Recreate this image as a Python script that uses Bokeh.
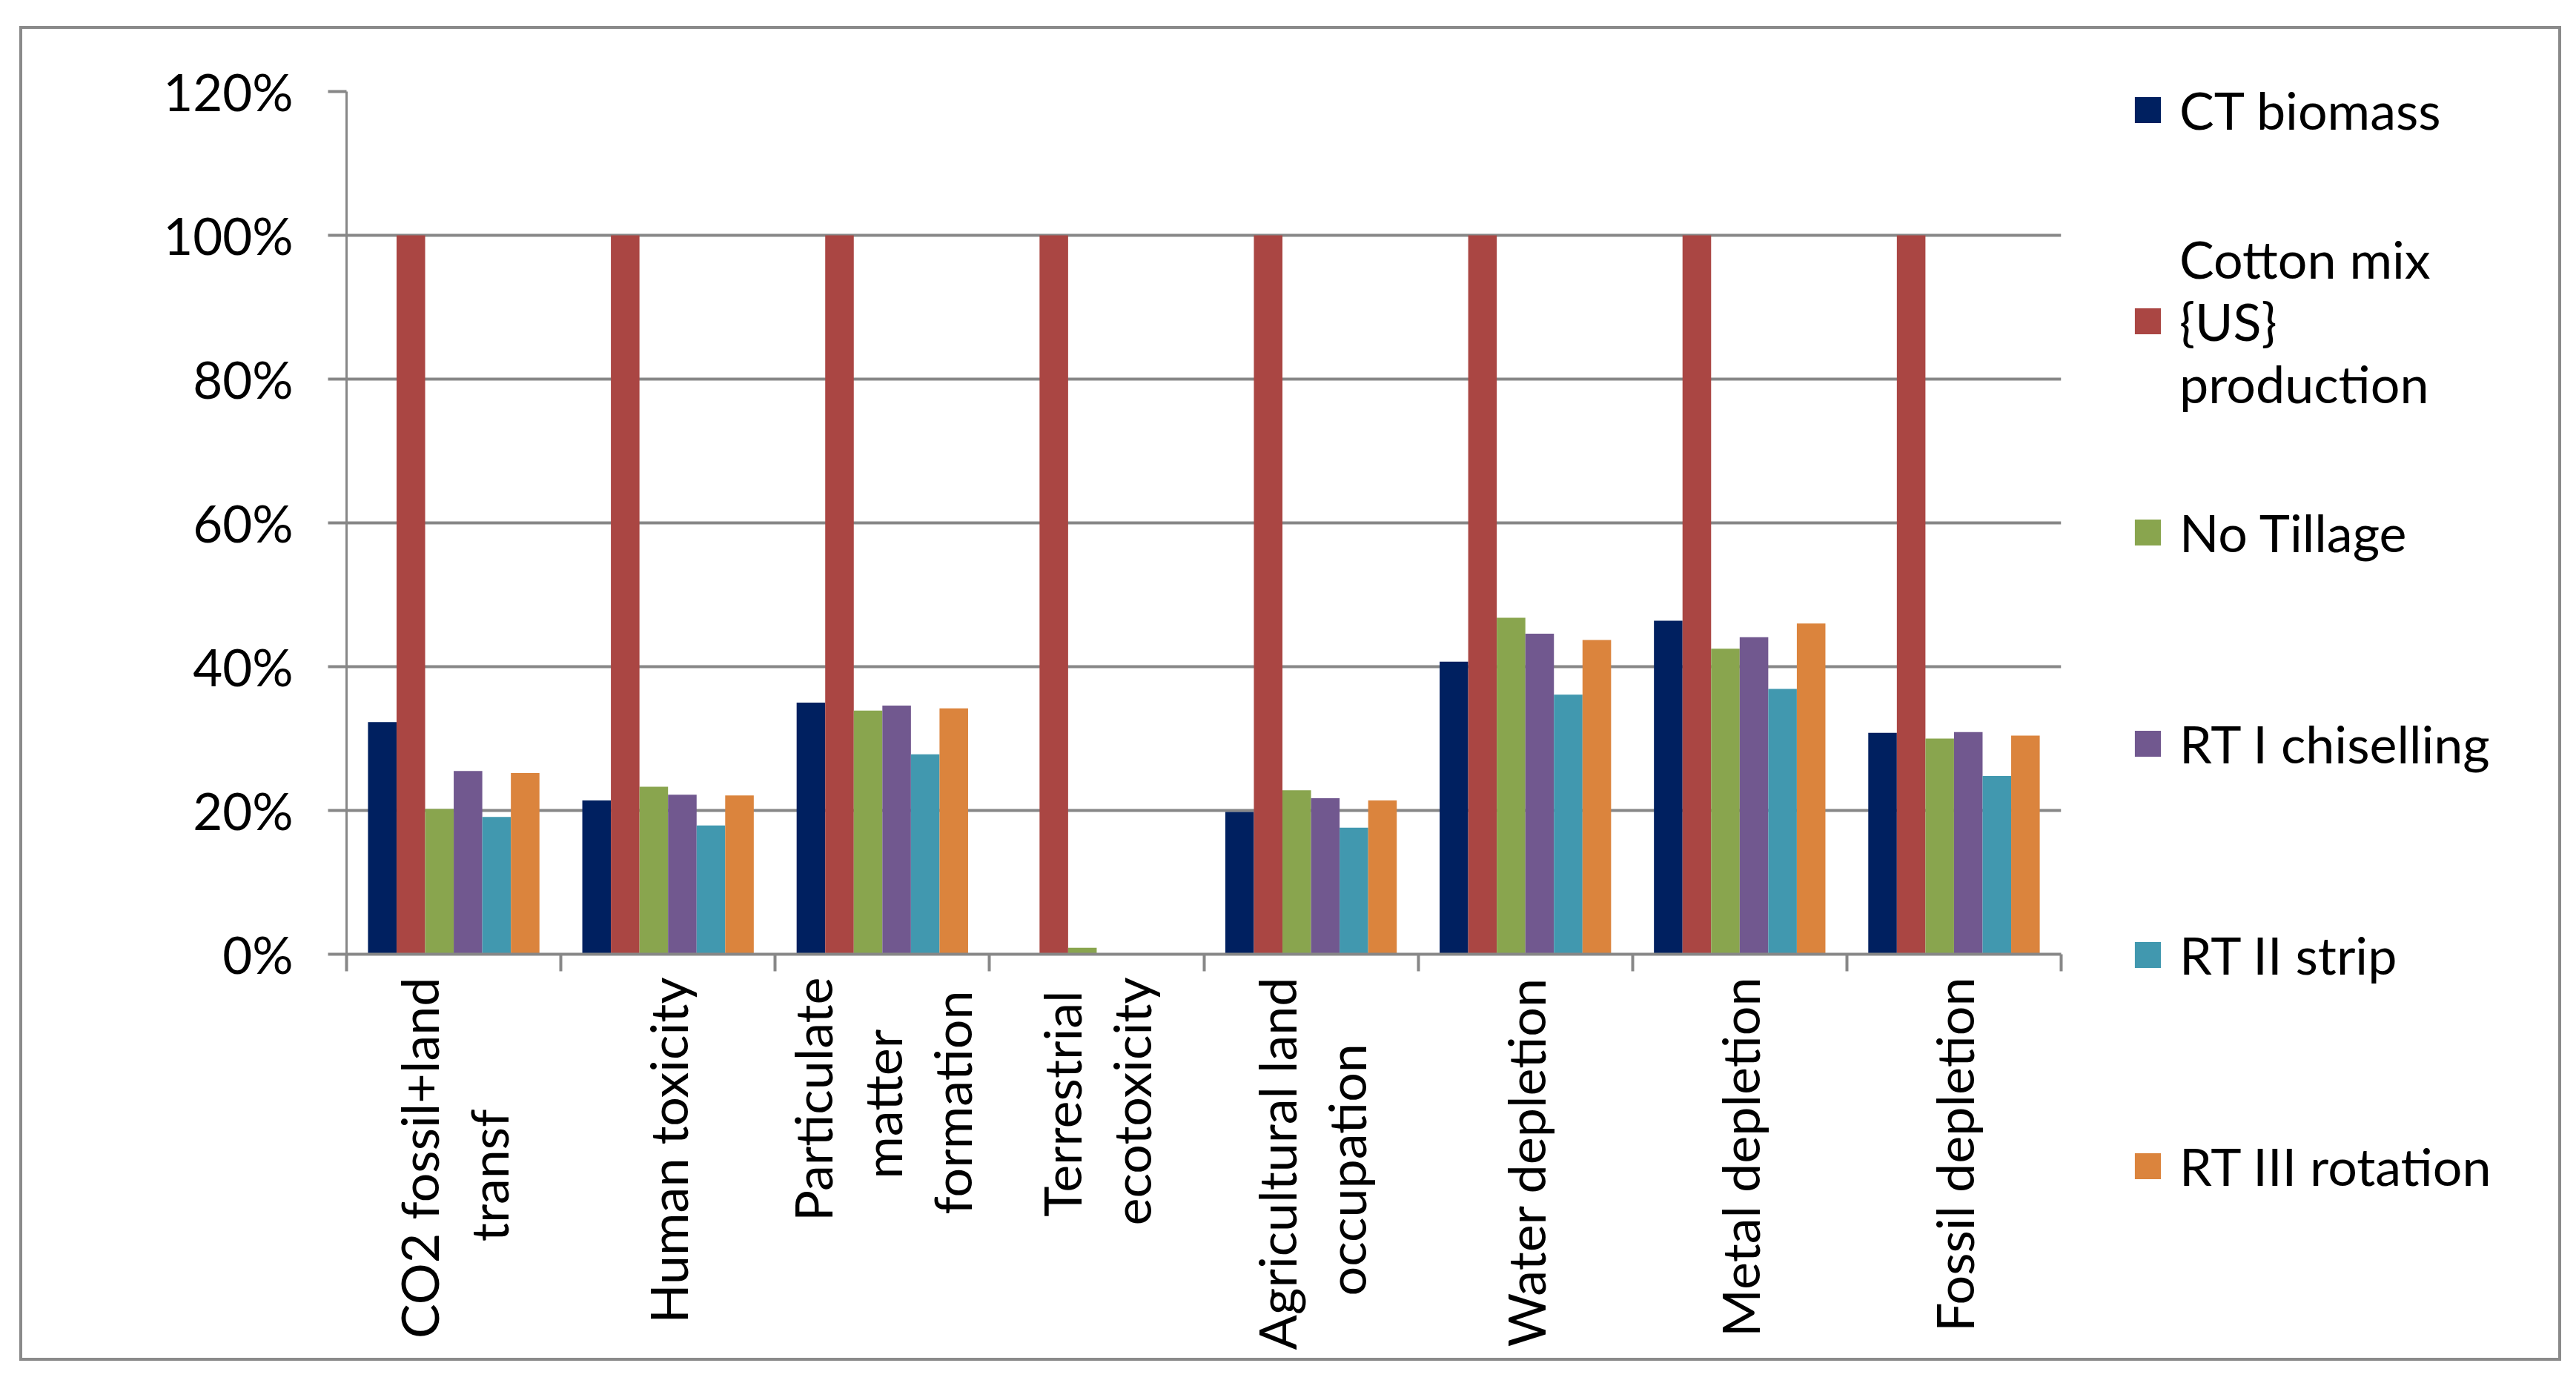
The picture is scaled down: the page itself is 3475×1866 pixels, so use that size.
import math
from bokeh.plotting import figure
from bokeh.models import (ColumnDataSource, Range1d, FixedTicker, NumeralTickFormatter,
                          Legend, LegendItem, Column, Div)
from bokeh.transform import dodge
from bokeh.embed import file_html
from bokeh.resources import INLINE

# ---------------- data ----------------
NB = "\u00a0"
categories = [
    "CO2 fossil+land\ntransf" + NB * 10,
    "Human toxicity",
    "Particulate\nmatter" + NB * 4 + "\nformation" + NB,
    "Terrestrial" + NB + "\necotoxicity",
    "Agricultural land\noccupation" + NB * 5,
    "Water depletion",
    "Metal depletion",
    "Fossil depletion",
]
series_names = ["CT biomass", "Cotton mix\n{US}\nproduction", "No Tillage",
                "RT I chiselling", "RT II strip", "RT III rotation"]
ct_biomass = [0.323, 0.214, 0.350, 0.000, 0.198, 0.407, 0.464, 0.308]
cotton_mix = [1.000, 1.000, 1.000, 1.000, 1.000, 1.000, 1.000, 1.000]
no_tillage = [0.202, 0.233, 0.339, 0.009, 0.228, 0.468, 0.425, 0.300]
rt_i_chiselling = [0.255, 0.222, 0.346, 0.000, 0.217, 0.446, 0.441, 0.309]
rt_ii_strip = [0.191, 0.179, 0.278, 0.000, 0.176, 0.361, 0.369, 0.248]
rt_iii_rotation = [0.252, 0.221, 0.342, 0.000, 0.214, 0.437, 0.460, 0.304]
y_ticks = [0, 0.2, 0.4, 0.6, 0.8, 1.0, 1.2]

colors = ["#002060", "#AA4643", "#89A54E", "#71588F", "#4198AF", "#DB843D"]
GRAY = "#878787"
FONT = "Lato"

keys = ["ct", "cotton", "nt", "rt1", "rt2", "rt3"]
values = [ct_biomass, cotton_mix, no_tillage, rt_i_chiselling, rt_ii_strip, rt_iii_rotation]
xpos = list(range(len(categories)))
data = {"x": xpos}
for k, v in zip(keys, values):
    data[k] = v
src = ColumnDataSource(data)

# the right-hand legend panel measures about 934 px wide
p = figure(width=3697, height=1801,
           x_range=Range1d(-0.5, len(categories) - 0.5), y_range=Range1d(0, 1.2),
           output_backend="svg", toolbar_location=None,
           min_border_left=442, min_border_right=375, min_border_top=89, min_border_bottom=548)
p.styles = {"position": "relative", "left": "25px", "top": "34px"}
p.outline_line_color = None
p.background_fill_color = "white"
p.border_fill_color = "white"

group = 0.8
bw = group / len(keys)
renderers = []
for i, (k, c) in enumerate(zip(keys, colors)):
    off = (i - (len(keys) - 1) / 2) * bw
    r = p.vbar(x=dodge("x", off, range=p.x_range), top=k, width=bw, source=src,
               fill_color=c, line_color=None)
    renderers.append(r)

# x axis
p.xaxis.ticker = FixedTicker(ticks=xpos, minor_ticks=[x - 0.5 for x in xpos] + [xpos[-1] + 0.5])
p.xaxis.major_label_overrides = {x: lbl for x, lbl in zip(xpos, categories)}
p.xaxis.major_tick_line_color = None
p.xaxis.major_tick_out = 0
p.xaxis.major_tick_in = 0
p.xaxis.minor_tick_line_color = GRAY
p.xaxis.minor_tick_line_width = 4
p.xaxis.minor_tick_out = 23
p.xaxis.minor_tick_in = 0
p.xaxis.axis_line_color = GRAY
p.xaxis.axis_line_width = 4
p.xaxis.major_label_orientation = math.pi / 2
p.xaxis.major_label_standoff = 8
p.xaxis.major_label_text_font = FONT
p.xaxis.major_label_text_font_size = "70px"
p.xaxis.major_label_text_color = "black"
p.xaxis.major_label_text_line_height = 1.12

# y axis
p.yaxis.ticker = FixedTicker(ticks=y_ticks)
p.yaxis.formatter = NumeralTickFormatter(format="0%")
p.yaxis.major_tick_out = 25
p.yaxis.major_tick_in = 0
p.yaxis.major_tick_line_color = GRAY
p.yaxis.major_tick_line_width = 4
p.yaxis.minor_tick_line_color = None
p.yaxis.axis_line_color = GRAY
p.yaxis.axis_line_width = 3
p.yaxis.major_label_standoff = 47
p.yaxis.major_label_text_font = FONT
p.yaxis.major_label_text_font_size = "69px"
p.yaxis.major_label_text_color = "black"

p.xgrid.grid_line_color = None
p.ygrid.ticker = FixedTicker(ticks=y_ticks)
p.ygrid.grid_line_color = GRAY
p.ygrid.grid_line_width = 4

# legend: single-line entries padded to three lines so all entries share one height
def pad(label):
    lines = label.split("\n")
    if len(lines) == 1:
        lines = [NB] + lines + [NB]
    return "\n".join(lines)

items = [LegendItem(label=pad(l), renderers=[r]) for l, r in zip(series_names, renderers)]
legend = Legend(items=items, location=(95, -412), orientation="vertical",
                glyph_width=44, glyph_height=44, label_height=40, spacing=33,
                padding=0, margin=0, label_standoff=21,
                border_line_color=None, background_fill_alpha=0,
                label_text_font=FONT, label_text_font_size="70px", label_text_color="black")
p.add_layout(legend, "right")

# outer chart border drawn as an overlay frame
frame_box = Div(text="", width=3429, height=1809,
                styles={"position": "absolute", "left": "21px", "top": "30px",
                        "border": "4px solid #8a8a8a", "box-sizing": "border-box",
                        "pointer-events": "none", "z-index": "10"})

root = Column(children=[p, frame_box])
open("out.html", "w").write(file_html(root, INLINE))
